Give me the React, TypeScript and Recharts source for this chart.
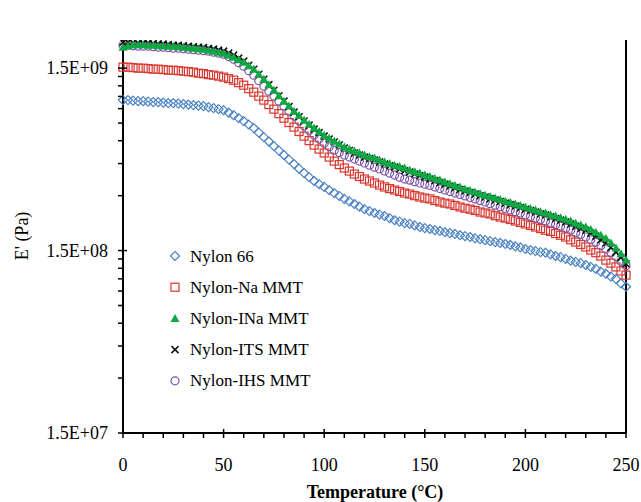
import React from 'react';
import { ScatterChart, Scatter, XAxis, YAxis, Legend, ReferenceLine, Label } from 'recharts';

// temperature (°C), one reading every 2.5 °C
const temperatures = [
  0, 2.5, 5, 7.5, 10, 12.5, 15, 17.5, 20, 22.5,
  25, 27.5, 30, 32.5, 35, 37.5, 40, 42.5, 45, 47.5,
  50, 52.5, 55, 57.5, 60, 62.5, 65, 67.5, 70, 72.5,
  75, 77.5, 80, 82.5, 85, 87.5, 90, 92.5, 95, 97.5,
  100, 102.5, 105, 107.5, 110, 112.5, 115, 117.5, 120, 122.5,
  125, 127.5, 130, 132.5, 135, 137.5, 140, 142.5, 145, 147.5,
  150, 152.5, 155, 157.5, 160, 162.5, 165, 167.5, 170, 172.5,
  175, 177.5, 180, 182.5, 185, 187.5, 190, 192.5, 195, 197.5,
  200, 202.5, 205, 207.5, 210, 212.5, 215, 217.5, 220, 222.5,
  225, 227.5, 230, 232.5, 235, 237.5, 240, 242.5, 245, 247.5,
  250,
];

// storage modulus E', in units of 1e8 Pa
const nylon66 = [
  10.02, 10.02, 9.96, 9.89, 9.89, 9.83, 9.77, 9.77, 9.71, 9.65,
  9.65, 9.59, 9.53, 9.47, 9.41, 9.35, 9.29, 9.17, 9.06, 8.94,
  8.83, 8.56, 8.29, 7.98, 7.69, 7.36, 7.04, 6.65, 6.28, 5.94,
  5.61, 5.3, 5.01, 4.73, 4.47, 4.22, 3.99, 3.79, 3.61, 3.47,
  3.35, 3.22, 3.1, 2.99, 2.88, 2.79, 2.7, 2.61, 2.53, 2.47,
  2.41, 2.36, 2.32, 2.26, 2.2, 2.16, 2.12, 2.1, 2.06, 2.02,
  1.99, 1.97, 1.94, 1.92, 1.89, 1.87, 1.85, 1.82, 1.8, 1.78,
  1.75, 1.73, 1.71, 1.69, 1.67, 1.65, 1.63, 1.61, 1.58, 1.56,
  1.53, 1.51, 1.49, 1.47, 1.46, 1.43, 1.4, 1.38, 1.35, 1.32,
  1.3, 1.28, 1.25, 1.22, 1.19, 1.15, 1.12, 1.08, 1.05, 0.99,
  0.95,
];

const nylonNa = [
  15.19, 15.19, 15.1, 15.0, 15.0, 14.91, 14.81, 14.81, 14.72, 14.62,
  14.62, 14.53, 14.44, 14.35, 14.26, 14.08, 13.99, 13.82, 13.73, 13.56,
  13.39, 13.14, 12.89, 12.49, 12.1, 11.58, 11.08, 10.54, 10.02, 9.47,
  8.94, 8.45, 7.98, 7.55, 7.13, 6.74, 6.36, 6.01, 5.68, 5.4,
  5.14, 4.88, 4.64, 4.44, 4.25, 4.09, 3.94, 3.82, 3.7, 3.61,
  3.52, 3.43, 3.35, 3.28, 3.22, 3.16, 3.1, 3.06, 3.0, 2.95,
  2.91, 2.88, 2.82, 2.77, 2.73, 2.7, 2.65, 2.6, 2.56, 2.53,
  2.49, 2.44, 2.41, 2.38, 2.33, 2.29, 2.26, 2.22, 2.18, 2.14,
  2.1, 2.06, 2.02, 1.98, 1.94, 1.91, 1.86, 1.82, 1.78, 1.72,
  1.67, 1.62, 1.57, 1.51, 1.46, 1.4, 1.33, 1.28, 1.22, 1.16,
  1.1,
];

const nylonINa = [
  19.55, 19.92, 20.18, 20.18, 20.18, 20.05, 20.05, 19.92, 19.92, 19.8,
  19.8, 19.67, 19.55, 19.43, 19.31, 19.19, 19.07, 18.83, 18.59, 18.36,
  18.13, 17.68, 17.24, 16.7, 16.18, 15.48, 14.81, 13.9, 13.05, 12.18,
  11.36, 10.6, 9.89, 9.29, 8.72, 8.24, 7.78, 7.4, 7.04, 6.74,
  6.44, 6.2, 5.97, 5.75, 5.54, 5.4, 5.27, 5.14, 5.01, 4.91,
  4.82, 4.7, 4.59, 4.5, 4.41, 4.33, 4.25, 4.14, 4.06, 3.99,
  3.89, 3.82, 3.72, 3.65, 3.56, 3.49, 3.41, 3.35, 3.26, 3.2,
  3.14, 3.08, 3.02, 2.97, 2.91, 2.86, 2.8, 2.75, 2.7, 2.65,
  2.6, 2.55, 2.5, 2.45, 2.41, 2.36, 2.32, 2.27, 2.23, 2.18,
  2.12, 2.07, 2.02, 1.96, 1.89, 1.82, 1.75, 1.65, 1.55, 1.44,
  1.33,
];

const nylonITS = [
  20.83, 20.83, 20.7, 20.57, 20.57, 20.57, 20.44, 20.31, 20.31, 20.18,
  20.05, 20.05, 19.92, 19.8, 19.67, 19.55, 19.43, 19.19, 19.07, 18.83,
  18.59, 18.13, 17.68, 17.02, 16.39, 15.57, 14.81, 13.9, 13.05, 12.18,
  11.36, 10.6, 9.89, 9.23, 8.61, 8.13, 7.69, 7.31, 6.95, 6.65,
  6.36, 6.13, 5.9, 5.68, 5.47, 5.3, 5.14, 5.01, 4.88, 4.79,
  4.7, 4.59, 4.47, 4.38, 4.3, 4.2, 4.11, 4.04, 3.94, 3.86,
  3.79, 3.7, 3.63, 3.54, 3.47, 3.39, 3.32, 3.24, 3.18, 3.12,
  3.06, 3.0, 2.95, 2.89, 2.84, 2.79, 2.73, 2.68, 2.63, 2.58,
  2.53, 2.49, 2.44, 2.39, 2.35, 2.3, 2.25, 2.2, 2.15, 2.1,
  2.04, 1.99, 1.94, 1.87, 1.8, 1.72, 1.65, 1.56, 1.47, 1.37,
  1.27,
];

const nylonIHS = [
  20.05, 20.05, 19.92, 19.8, 19.8, 19.8, 19.67, 19.55, 19.55, 19.43,
  19.31, 19.31, 19.19, 19.07, 18.95, 18.83, 18.71, 18.59, 18.36, 18.13,
  17.9, 17.35, 16.81, 16.08, 15.38, 14.53, 13.73, 12.81, 11.95, 11.22,
  10.54, 9.89, 9.29, 8.72, 8.19, 7.69, 7.22, 6.82, 6.44, 6.13,
  5.82, 5.57, 5.33, 5.17, 5.01, 4.88, 4.76, 4.64, 4.53, 4.41,
  4.3, 4.2, 4.09, 3.99, 3.89, 3.79, 3.7, 3.65, 3.58, 3.52,
  3.47, 3.41, 3.35, 3.28, 3.22, 3.16, 3.1, 3.04, 2.99, 2.93,
  2.88, 2.82, 2.77, 2.71, 2.66, 2.61, 2.56, 2.5, 2.45, 2.41,
  2.35, 2.3, 2.26, 2.22, 2.18, 2.12, 2.08, 2.04, 1.99, 1.94,
  1.88, 1.84, 1.78, 1.72, 1.67, 1.6, 1.53, 1.46, 1.39, 1.31,
  1.24,
];

const xTicks = [0, 10, 20, 30, 40, 50, 60, 70, 80, 90, 100, 110, 120, 130, 140, 150, 160, 170, 180, 190, 200, 210, 220, 230, 240, 250];
const yMajor = [0.15, 1.5, 15];
const yTicks = [0.15, 0.3, 0.45, 0.6, 0.75, 0.9, 1.05, 1.2, 1.35, 1.5, 3, 4.5, 6, 7.5, 9, 10.5, 12, 13.5, 15];

const FONT = "'Liberation Serif', 'Times New Roman', 'DejaVu Serif', serif";
const txt = { fontFamily: FONT };

type MarkerKind = 'diamond' | 'square' | 'triangle' | 'cross' | 'circle';

const series: { name: string; values: number[]; color: string; marker: MarkerKind }[] = [
  { name: 'Nylon 66', values: nylon66, color: '#4A82C3', marker: 'diamond' },
  { name: 'Nylon-Na MMT', values: nylonNa, color: '#D8372F', marker: 'square' },
  { name: 'Nylon-INa MMT', values: nylonINa, color: '#10A843', marker: 'triangle' },
  { name: 'Nylon-ITS MMT', values: nylonITS, color: '#111111', marker: 'cross' },
  { name: 'Nylon-IHS MMT', values: nylonIHS, color: '#7C55A8', marker: 'circle' },
];

// draw order: purple under black, green on top
const drawOrder = [0, 1, 4, 3, 2];

function Marker({ kind, cx, cy, color }: { kind: MarkerKind; cx: number; cy: number; color: string }) {
  switch (kind) {
    case 'diamond':
      return <polygon points={`${cx},${cy - 4.5} ${cx + 4.5},${cy} ${cx},${cy + 4.5} ${cx - 4.5},${cy}`} fill="none" stroke={color} strokeWidth={1.2} />;
    case 'square':
      return <rect x={cx - 4} y={cy - 4} width={8} height={8} fill="none" stroke={color} strokeWidth={1.2} />;
    case 'triangle':
      return <polygon points={`${cx},${cy - 4.5} ${cx + 4.5},${cy + 3.5} ${cx - 4.5},${cy + 3.5}`} fill={color} />;
    case 'cross':
      return <path d={`M${cx - 3.5},${cy - 3.5}L${cx + 3.5},${cy + 3.5}M${cx - 3.5},${cy + 3.5}L${cx + 3.5},${cy - 3.5}`} stroke={color} strokeWidth={1.5} />;
    default:
      return <circle cx={cx} cy={cy} r={4} fill="none" stroke={color} strokeWidth={1.2} />;
  }
}

function formatSci(v: number) {
  const [m, ex] = (v * 1e8).toExponential(1).split('e');
  return `${m}E${ex[0]}${ex.slice(1).padStart(2, '0')}`;
}

function YTick(props: any) {
  const { x, y, payload } = props;
  const major = yMajor.includes(payload.value);
  return (
    <g>
      <line x1={x - 5} x2={major ? x + 4 : x} y1={y} y2={y} stroke="#000" strokeWidth={1.5} />
      {major && (
        <text x={x - 15} y={y + 6} textAnchor="end" fontSize={18} style={txt} fill="#000">
          {formatSci(payload.value)}
        </text>
      )}
    </g>
  );
}

function XTick(props: any) {
  const { x, y, payload } = props;
  const major = payload.value % 50 === 0;
  return (
    <g>
      <line x1={x} x2={x} y1={major ? y - 4 : y} y2={y + 5} stroke="#000" strokeWidth={1.5} />
      {major && (
        <text x={x} y={y + 38} textAnchor="middle" fontSize={18} style={txt} fill="#000">
          {payload.value}
        </text>
      )}
    </g>
  );
}

function LegendBox() {
  return (
    <svg width={200} height={160}>
      {series.map((s, i) => {
        const cy = 16 + i * 31.2;
        return (
          <g key={s.name}>
            <Marker kind={s.marker} cx={10} cy={cy} color={s.color} />
            <text x={25} y={cy + 5.5} fontSize={17} style={txt} fill="#000">{s.name}</text>
          </g>
        );
      })}
    </svg>
  );
}

export default function App() {
  return (
    <div style={{ position: 'absolute', left: 0, top: 0, width: 641, height: 502, background: '#fff', fontFamily: FONT }}>
      <ScatterChart width={641} height={502} margin={{ top: 40, right: 15, bottom: 0, left: 0 }}>
        <XAxis
          dataKey="t"
          type="number"
          domain={[0, 250]}
          ticks={xTicks}
          interval={0}
          height={69}
          tickLine={false}
          tickSize={0}
          tickMargin={0}
          tick={<XTick />}
          axisLine={{ stroke: '#000', strokeWidth: 2 }}
        >
          <Label
            content={() => (
              <text x={375} y={498} textAnchor="middle" fontSize={18} fontWeight="bold" style={txt} fill="#000">
                Temperature (°C)
              </text>
            )}
          />
        </XAxis>
        <YAxis
          dataKey="e"
          type="number"
          scale="log"
          domain={[0.15, 21.4]}
          allowDataOverflow
          ticks={yTicks}
          interval={0}
          width={123}
          tickLine={false}
          tickSize={0}
          tickMargin={0}
          tick={<YTick />}
          axisLine={{ stroke: '#000', strokeWidth: 2 }}
        >
          <Label
            content={() => (
              <text transform="rotate(-90)" x={-236} y={28} textAnchor="middle" fontSize={18} style={txt} fill="#000">
                E' (Pa)
              </text>
            )}
          />
        </YAxis>
        <ReferenceLine x={250} stroke="#000" strokeWidth={2} />
        {drawOrder.map((idx) => {
          const s = series[idx];
          const data = temperatures.map((t, i) => ({ t, e: s.values[i] }));
          return (
            <Scatter
              key={s.name}
              name={s.name}
              data={data}
              isAnimationActive={false}
              shape={(p: any) => <Marker kind={s.marker} cx={p.cx} cy={p.cy} color={s.color} />}
            />
          );
        })}
        <Legend
          layout="vertical"
          align="center"
          verticalAlign="middle"
          wrapperStyle={{ left: 165, top: 240, width: 200, height: 160 }}
          content={() => <LegendBox />}
        />
      </ScatterChart>
    </div>
  );
}
